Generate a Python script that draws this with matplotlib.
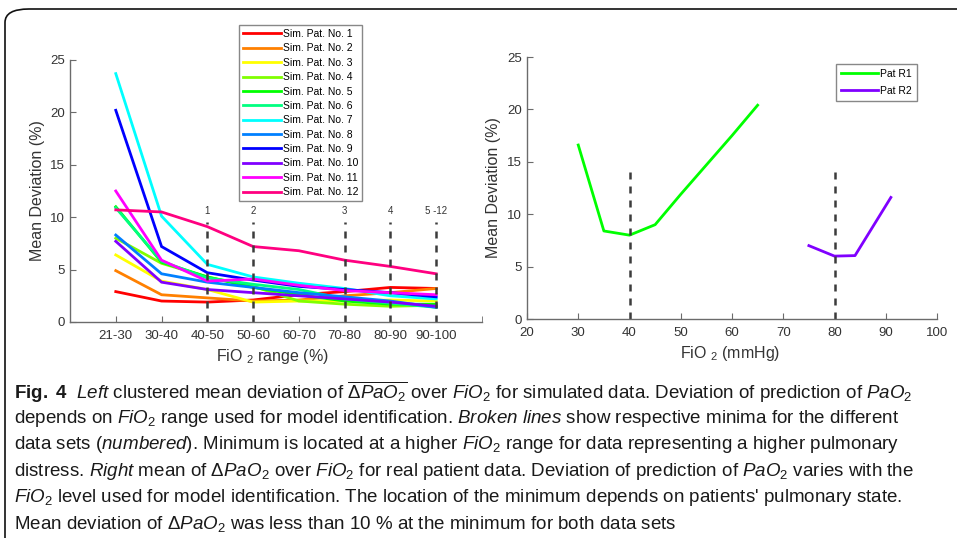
import colorsys
import numpy as np
import matplotlib
matplotlib.use("Agg")
import matplotlib.pyplot as plt
from matplotlib import font_manager
from matplotlib.patches import FancyBboxPatch

# fonts: a narrow sans if there is one
names = {f.name for f in font_manager.fontManager.ttflist}
base = 'Liberation Sans Narrow' if 'Liberation Sans Narrow' in names else 'Liberation Sans'
plt.rcParams['font.family'] = [base, 'DejaVu Sans']
plt.rcParams['mathtext.fontset'] = 'custom'
plt.rcParams['mathtext.rm'] = base
plt.rcParams['mathtext.it'] = base + ':italic'
plt.rcParams['mathtext.bf'] = base + ':bold'

# left panel data (mean deviation %, per FiO2 range)
fio2_ranges = ['21-30', '30-40', '40-50', '50-60', '60-70', '70-80', '80-90', '90-100']
sim_labels = ['Sim. Pat. No. %d' % i for i in range(1, 13)]
sim_values = [
    [2.9, 2.0, 1.9, 2.1, 2.6, 2.9, 3.3, 3.2],
    [4.9, 2.6, 2.3, 2.0, 2.1, 2.5, 2.8, 3.2],
    [6.4, 3.9, 3.1, 1.9, 2.0, 2.0, 2.1, 2.0],
    [8.0, 5.6, 4.3, 3.4, 2.0, 1.7, 1.5, 1.6],
    [11.0, 5.7, 4.3, 3.3, 2.6, 2.0, 1.7, 1.7],
    [10.9, 5.8, 4.2, 3.6, 3.1, 2.2, 1.8, 1.4],
    [23.7, 10.1, 5.5, 4.3, 3.7, 3.2, 2.5, 2.2],
    [8.3, 4.6, 3.8, 3.3, 2.8, 2.4, 2.0, 1.4],
    [20.2, 7.2, 4.7, 4.0, 3.4, 3.1, 2.8, 2.4],
    [7.7, 3.8, 3.1, 2.8, 2.5, 2.2, 1.9, 1.5],
    [12.5, 5.9, 3.9, 4.1, 3.5, 3.0, 2.8, 2.6],
    [10.7, 10.5, 9.1, 7.2, 6.8, 5.9, 5.3, 4.6],
]
min_pos = [3, 4, 6, 7, 8]
min_labels = ['1', '2', '3', '4', '5 -12']
min_top = 9.5

# right panel data
r1_fio2 = [30, 35, 40, 45, 50, 55, 60, 65]
r1_dev = [16.6, 8.4, 8.0, 9.0, 11.9, 14.7, 17.5, 20.4]
r2_fio2 = [75, 80, 84, 91]
r2_dev = [7.0, 6.0, 6.05, 11.6]
real_min = [40, 80]
real_top = 14.7

colors = [colorsys.hsv_to_rgb(i / 12, 1, 1) for i in range(12)]
axc = '#6b6b6b'
txc = '#333333'

W, H = 957, 538
fig = plt.figure(figsize=(W / 100, H / 100), dpi=100)


def px_axes(x0, y0, x1, y1):
    return fig.add_axes([x0 / W, 1 - y1 / H, (x1 - x0) / W, (y1 - y0) / H])


def style(ax):
    for s in ['top', 'right']:
        ax.spines[s].set_visible(False)
    for s in ['left', 'bottom']:
        ax.spines[s].set_color(axc)
        ax.spines[s].set_linewidth(1.0)
    ax.tick_params(direction='in', length=4, color=axc, labelcolor=txc, labelsize=9.5)


# left
ax1 = px_axes(70, 60, 482, 322)
xs = np.arange(1, len(fio2_ranges) + 1)
for vals, lab, c in zip(sim_values, sim_labels, colors):
    ax1.plot(xs, vals, color=c, lw=2.0, label=lab, solid_joinstyle='miter')
for p, t in zip(min_pos, min_labels):
    ax1.plot([p, p], [0, min_top], ls=(0, (2.8, 2.8)), color='#3c3c3c', lw=1.8)
    ax1.text(p, min_top + 0.6, t, ha='center', va='bottom', fontsize=7, color=txc)
ax1.set_xlim(0, 9)
ax1.set_ylim(0, 25)
ax1.set_xticks(xs)
ax1.set_xticklabels(fio2_ranges)
ax1.set_xticks([9], minor=True)
ax1.set_yticks(range(0, 26, 5))
style(ax1)
ax1.tick_params(axis='x', which='both', direction='in', length=4, color=axc, pad=6)
ax1.set_xlabel('FiO $_2$ range (%)', fontsize=11.5, color=txc)
ax1.set_ylabel('Mean Deviation (%)', fontsize=11.5, color=txc)
ax1.xaxis.set_label_coords(0.492, -0.095)
ax1.yaxis.set_label_coords(-0.061, 0.5)
leg1 = ax1.legend(loc='upper left', bbox_to_anchor=(0.41, 1.134), fontsize=7.5,
                  handlelength=3.6, handletextpad=0.2, labelspacing=0.42,
                  borderpad=0.4, frameon=True, fancybox=False, borderaxespad=0)
leg1.get_frame().set_edgecolor(axc)
leg1.get_frame().set_linewidth(1.0)

# right
ax2 = px_axes(527, 57, 937, 319)
ax2.plot(r1_fio2, r1_dev, color=(0, 1, 0), lw=2.0, label='Pat R1')
ax2.plot(r2_fio2, r2_dev, color=(0.5, 0, 1), lw=2.0, label='Pat R2')
for p in real_min:
    ax2.plot([p, p], [0, real_top], ls=(0, (2.8, 2.8)), color='#3c3c3c', lw=1.8)
ax2.set_xlim(20, 100)
ax2.set_ylim(0, 25)
ax2.set_xticks(range(20, 101, 10))
ax2.set_yticks(range(0, 26, 5))
style(ax2)
ax2.tick_params(axis='x', pad=6)
ax2.set_xlabel('FiO $_2$ (mmHg)', fontsize=11.5, color=txc)
ax2.set_ylabel('Mean Deviation (%)', fontsize=11.5, color=txc)
ax2.xaxis.set_label_coords(0.495, -0.095)
ax2.yaxis.set_label_coords(-0.063, 0.5)
leg2 = ax2.legend(loc='upper right', bbox_to_anchor=(0.951, 0.973), fontsize=7.5,
                  handlelength=3.6, handletextpad=0.2, labelspacing=0.7,
                  borderpad=0.45, frameon=True, fancybox=False, borderaxespad=0)
leg2.get_frame().set_edgecolor(axc)
leg2.get_frame().set_linewidth(1.0)

# caption
caption = [
    r'$\mathbf{Fig.\ 4}$  $\mathit{Left}$ clustered mean deviation of $\overline{\Delta \mathit{PaO}_2}$ over $\mathit{FiO}_2$ for simulated data. Deviation of prediction of $\mathit{PaO}_2$',
    r'depends on $\mathit{FiO}_2$ range used for model identification. $\mathit{Broken\ lines}$ show respective minima for the different',
    r'data sets ($\mathit{numbered}$). Minimum is located at a higher $\mathit{FiO}_2$ range for data representing a higher pulmonary',
    r'distress. $\mathit{Right}$ mean of $\mathit{\Delta PaO}_2$ over $\mathit{FiO}_2$ for real patient data. Deviation of prediction of $\mathit{PaO}_2$ varies with the',
    r"$\mathit{FiO}_2$ level used for model identification. The location of the minimum depends on patients' pulmonary state.",
    r'Mean deviation of $\mathit{\Delta PaO}_2$ was less than 10 % at the minimum for both data sets',
]
for i, line in enumerate(caption):
    fig.text(14 / W, 1 - (392 + i * 26.4) / H, line, ha='left', va='center',
             fontsize=13.5, color='#1a1a1a')

# panel frame with a rounded corner, running off the right and bottom edges
frame = FancyBboxPatch((5 / W, -0.1), 1.2, 1.1 - 9 / H,
                       boxstyle='round,pad=0,rounding_size=0.025',
                       transform=fig.transFigure, fill=False,
                       edgecolor='#111111', lw=1.2, clip_on=False)
fig.patches.append(frame)

fig.savefig('out.png', dpi=100)
